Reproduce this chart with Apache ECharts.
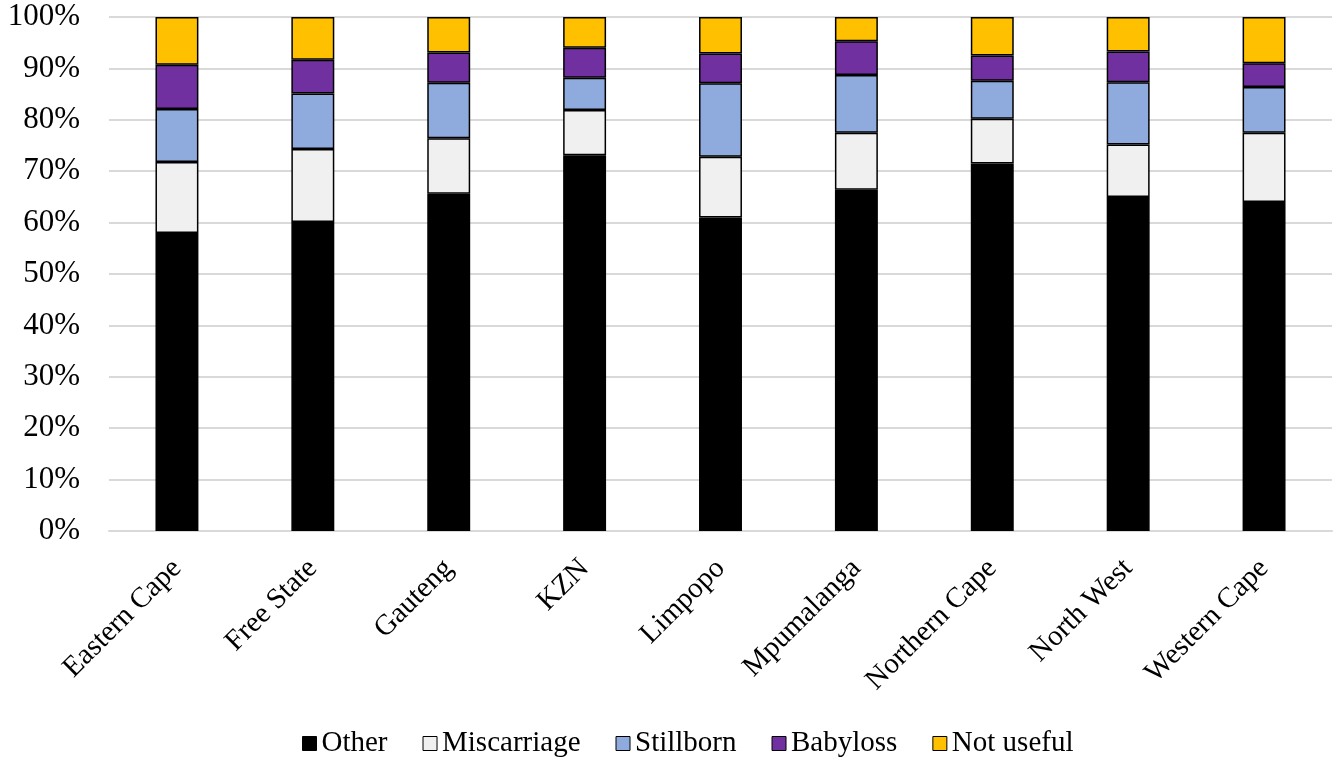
<!DOCTYPE html>
<html><head><meta charset="utf-8">
<script src="https://cdn.jsdelivr.net/npm/echarts@6/dist/echarts.min.js"></script>
<style>html,body{margin:0;padding:0;background:#fff}#c{width:1338px;height:763px}</style>
</head><body><div id="c"></div>
<script>
const categories = ['Eastern Cape','Free State','Gauteng','KZN','Limpopo','Mpumalanga','Northern Cape','North West','Western Cape'];
const other       = [58.0, 60.1, 65.6, 73.1, 61.0, 66.4, 71.5, 65.0, 64.0];
const miscarriage = [13.8, 14.2, 10.8,  8.8, 11.8, 11.1,  8.7, 10.2, 13.5];
const stillborn   = [10.3, 10.8, 10.8,  6.3, 14.3, 11.2,  7.4, 12.1,  8.9];
const babyloss    = [ 8.6,  6.6,  5.9,  5.8,  5.8,  6.6,  4.9,  6.0,  4.6];
const notUseful   = [ 9.3,  8.3,  6.9,  6.0,  7.1,  4.7,  7.5,  6.7,  9.0];
const seriesNames = ['Other','Miscarriage','Stillborn','Babyloss','Not useful'];
const seriesData = [other, miscarriage, stillborn, babyloss, notUseful];
const colors = ['#000000','#F0F0F0','#8FAADC','#7030A0','#FFC000'];
const font = 'Liberation Serif';
const chart = echarts.init(document.getElementById('c'));
chart.setOption({
  animation:false,
  grid:{left:109,right:6,top:17,bottom:232},
  legend:{bottom:0,left:297,icon:'rect',itemWidth:14,itemHeight:14,itemGap:35,
    itemStyle:{borderColor:'#000',borderWidth:1},
    textStyle:{fontFamily:font,fontSize:29,color:'#000'},
    data:seriesNames},
  xAxis:{type:'category',data:categories,
    axisLine:{show:true,lineStyle:{color:'#d9d9d9',width:2}},axisTick:{show:false},
    axisLabel:{rotate:45,interval:0,fontFamily:font,fontSize:29,color:'#000',margin:33}},
  yAxis:{type:'value',min:0,max:100,interval:10,
    axisLabel:{formatter:'{value}%',fontFamily:font,fontSize:31,color:'#000',margin:29},
    splitLine:{lineStyle:{color:'#d9d9d9',width:2}},axisLine:{show:false},axisTick:{show:false}},
  series:seriesNames.map((n,i)=>({name:n,type:'bar',stack:'s',data:seriesData[i],barWidth:'31.6%',
    itemStyle:{color:colors[i],borderColor:'#000',borderWidth:1.5}}))
});
</script></body></html>
